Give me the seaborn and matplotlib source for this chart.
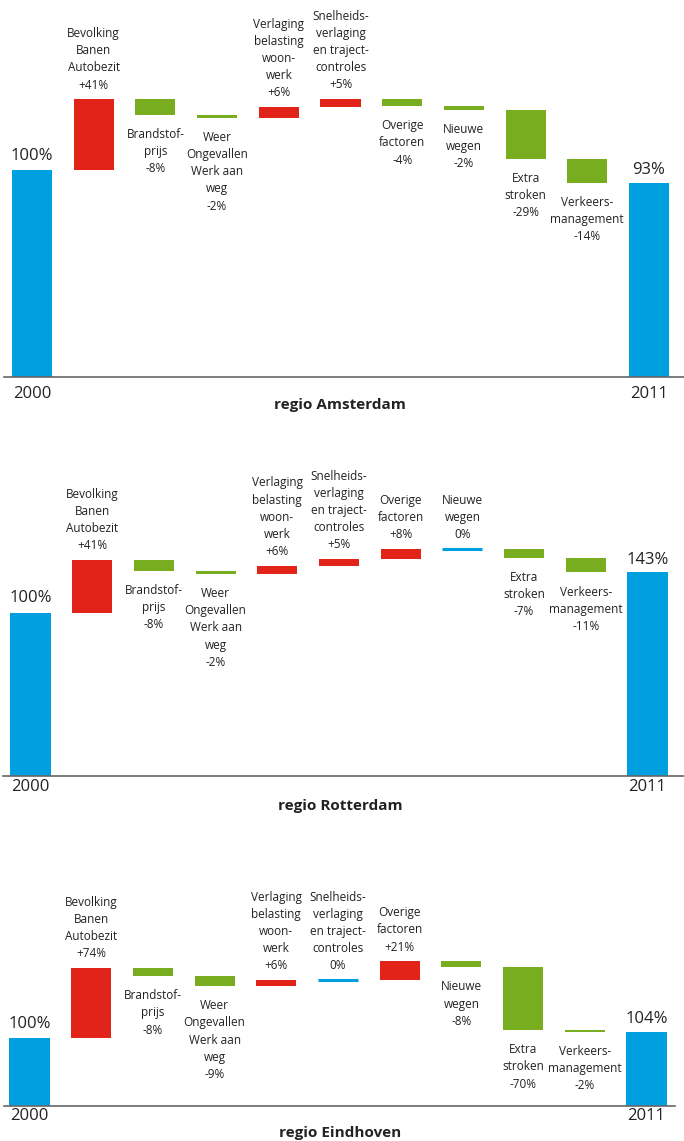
import matplotlib.pyplot as plt
import numpy as np
import pandas as pd
import seaborn as sns

# Factor names, same order in every region
factors = [
    "Bevolking\nBanen\nAutobezit",
    "Brandstof-\nprijs",
    "Weer\nOngevallen\nWerk aan\nweg",
    "Verlaging\nbelasting\nwoon-\nwerk",
    "Snelheids-\nverlaging\nen traject-\ncontroles",
    "Overige\nfactoren",
    "Nieuwe\nwegen",
    "Extra\nstroken",
    "Verkeers-\nmanagement",
]
years = ["2000", "2011"]
regions = ["regio Amsterdam", "regio Rotterdam", "regio Eindhoven"]

# Percentages as printed on the chart
ams_pct = [41, -8, -2, 6, 5, -4, -2, -29, -14]
rot_pct = [41, -8, -2, 6, 5, 8, 0, -7, -11]
ein_pct = [74, -8, -9, 6, 0, 21, -8, -70, -2]
end_pct = [93, 143, 104]

# Bar steps as drawn (the artwork is not to scale with its own labels)
ams_steps = [34.2, -7.4, -1.5, 5.2, 3.8, -3.3, -1.8, -23.7, -11.6]
rot_steps = [32.3, -6.5, -1.9, 4.8, 4.2, 6.2, 0.0, -5.4, -9.0]
ein_steps = [103.4, -11.8, -14.8, 8.9, 0.0, 27.6, -8.8, -92.6, -2.5]

BLUE = "#009fe0"
RED = "#e2231a"
GREEN = "#78ad1f"
TEXT = "#222222"
AXIS = "#666666"

W, H = 684, 1141
STEP_PX = 61.7  # distance between bar centres

# per panel: baseline y, px per %, top y, first bar centre x, axis left/right x, tick pad
layout = [
    dict(base=376.7, scale=2.067, top=0, x0=32.0, left=4, right=684, pad=6.5, title_y=398),
    dict(base=775.7, scale=1.63, top=420, x0=30.5, left=3, right=684, pad=2.5, title_y=799),
    dict(base=1105.7, scale=0.677, top=840, x0=29.5, left=4, right=675, pad=2, title_y=1126),
]


def fmt_pct(p):
    return f"+{p}%" if p > 0 else f"{p}%"


def draw_panel(ax, steps, pct, end_label, lay):
    steps = np.asarray(steps, dtype=float)
    cum = 100 + np.cumsum(steps)
    before = np.concatenate([[100.0], cum[:-1]])
    lows = np.concatenate([[0.0], np.minimum(before, cum), [0.0]])
    highs = np.concatenate([[100.0], np.maximum(before, cum), [cum[-1]]])
    names = [years[0]] + factors + [years[1]]

    df = pd.DataFrame({"step": names, "height": highs - lows})
    sns.barplot(data=df, x="step", y="height", order=names, bottom=lows,
                width=0.65, color=BLUE, saturation=1, errorbar=None, ax=ax)

    colors = [BLUE] + [RED if s > 0 else GREEN if s < 0 else BLUE for s in steps] + [BLUE]
    for patch, c in zip(ax.patches, colors):
        patch.set_facecolor(c)
        patch.set_edgecolor("none")

    # zero steps are drawn as a thin line
    for i, s in enumerate(steps, start=1):
        if s == 0:
            ax.hlines(cum[i - 1], i - 0.325, i + 0.325, color=BLUE, lw=2.2)

    # factor labels: above for rises (and zero), below for drops
    for i, (name, s, p) in enumerate(zip(factors, steps, pct), start=1):
        txt = name + "\n" + fmt_pct(p)
        if s >= 0:
            ax.annotate(txt, (i, highs[i]), xytext=(0, 5.5), textcoords="offset points",
                        ha="center", va="bottom", fontsize=8.5, color=TEXT,
                        linespacing=1.42)
        else:
            ax.annotate(txt, (i, lows[i]), xytext=(0, -9.5), textcoords="offset points",
                        ha="center", va="top", fontsize=8.5, color=TEXT,
                        linespacing=1.42)

    # totals above the year bars
    ax.annotate("100%", (0, 100), xytext=(0, 4.5), textcoords="offset points",
                ha="center", va="bottom", fontsize=12, color=TEXT)
    ax.annotate(f"{end_label}%", (len(names) - 1, cum[-1]), xytext=(0, 3),
                textcoords="offset points", ha="center", va="bottom",
                fontsize=12, color=TEXT)

    ax.set_xlim((lay["left"] - lay["x0"]) / STEP_PX, (lay["right"] - lay["x0"]) / STEP_PX)
    ax.set_ylim(0, (lay["base"] - lay["top"]) / lay["scale"])
    ax.set_xticks(range(len(names)))
    ax.set_xticklabels([years[0]] + [""] * len(factors) + [years[1]])
    ax.tick_params(axis="x", length=0, labelsize=12, pad=lay["pad"], colors=TEXT)
    ax.set_yticks([])
    ax.set_xlabel("")
    ax.set_ylabel("")
    for side in ["left", "right", "top"]:
        ax.spines[side].set_visible(False)
    ax.spines["bottom"].set_color(AXIS)
    ax.spines["bottom"].set_linewidth(1.2)


sns.set_style("white")
plt.rcParams["font.family"] = ["Open Sans", "DejaVu Sans"]

fig = plt.figure(figsize=(W / 100, H / 100), dpi=100)

all_steps = [ams_steps, rot_steps, ein_steps]
all_pct = [ams_pct, rot_pct, ein_pct]

for k, lay in enumerate(layout):
    rect = [lay["left"] / W, 1 - lay["base"] / H,
            (lay["right"] - lay["left"]) / W, (lay["base"] - lay["top"]) / H]
    ax = fig.add_axes(rect)
    ax.patch.set_alpha(0)
    draw_panel(ax, all_steps[k], all_pct[k], end_pct[k], lay)
    fig.text(340 / W, 1 - lay["title_y"] / H, regions[k], ha="center", va="top",
             fontsize=11, fontweight="bold", color=TEXT)

fig.savefig("out.png", dpi=100)
